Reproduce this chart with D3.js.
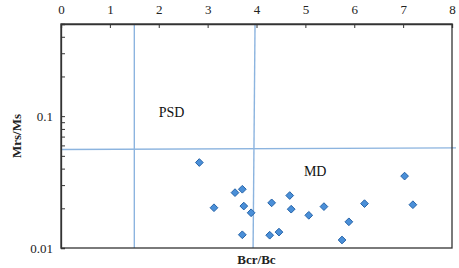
<!DOCTYPE html>
<html>
<head>
<meta charset="utf-8">
<script src="https://cdn.jsdelivr.net/npm/d3@7"></script>
<style>
  body { margin: 0; background: #fff; }
  svg { display: block; }
  svg text { font-family: 'Liberation Serif', 'Times New Roman', serif; }
</style>
</head>
<body>
<script>
// Bcr/Bc values
const bcrBc = [2.83, 3.13, 3.56, 3.71, 3.74, 3.89, 3.71, 4.27, 4.46, 4.31,
               4.68, 4.71, 5.07, 5.38, 5.75, 5.89, 6.21, 7.03, 7.20];
// Mrs/Ms values
const mrsMs = [0.0445, 0.0202, 0.0263, 0.0279, 0.0208, 0.0185, 0.0126, 0.0125, 0.0132, 0.0220,
               0.0250, 0.0197, 0.0177, 0.0206, 0.0115, 0.0158, 0.0217, 0.0351, 0.0213];

const xTicks = [0, 1, 2, 3, 4, 5, 6, 7, 8];
const yLabelTicks = [0.01, 0.1];
const yMinorTicks = [0.02, 0.03, 0.04, 0.05, 0.06, 0.07, 0.08, 0.09, 0.1, 0.2, 0.3, 0.4];

// domain boundary lines (Day plot)
const psdLineX = [[1.5, 0.5], [1.5, 0.01]];
const mdLineX = [[3.97, 0.5], [3.93, 0.01]];
const mdLineY = [[0, 0.0558], [8.08, 0.0575]];

const regionLabels = [
    { text: 'PSD', x: 2.0, y: 0.107 },
    { text: 'MD', x: 4.97, y: 0.038 }
];

const width = 459, height = 268;
const margin = { top: 24, right: 7, bottom: 20, left: 61 };
const serif = "'Liberation Serif', 'Times New Roman', serif";

const svg = d3.select('body').append('svg')
    .attr('width', width)
    .attr('height', height);

const x = d3.scaleLinear()
    .domain([0, 8])
    .range([margin.left, width - margin.right]);
const y = d3.scaleLog()
    .domain([0.01, 0.5])
    .range([height - margin.bottom, margin.top]);

const lineColor = '#8cb4df';
const line = d3.line().x(d => x(d[0])).y(d => y(d[1]));

// reference lines
[psdLineX, mdLineX, mdLineY].forEach(pts => {
    svg.append('path')
        .attr('d', line(pts))
        .attr('fill', 'none')
        .attr('stroke', lineColor)
        .attr('stroke-width', 1.4);
});

// frame
svg.append('rect')
    .attr('x', x(0))
    .attr('y', y(0.5))
    .attr('width', x(8) - x(0))
    .attr('height', y(0.01) - y(0.5))
    .attr('fill', 'none')
    .attr('stroke', '#333')
    .attr('stroke-width', 1.3);

// top x axis (ticks pointing inward)
const xAxis = svg.append('g')
    .attr('transform', `translate(0,${y(0.5)})`)
    .call(d3.axisTop(x).tickValues(xTicks).tickSize(-4).tickPadding(10).tickFormat(d3.format('d')));
xAxis.attr('font-family', serif);
xAxis.select('.domain').attr('stroke', '#333').attr('stroke-width', 1.3);
xAxis.selectAll('.tick line').attr('stroke', '#333');
xAxis.selectAll('.tick text')
    .attr('font-size', 13)
    .attr('font-family', serif)
    .attr('fill', '#222');

// left y axis: minor ticks inward
const yAxis = svg.append('g')
    .attr('transform', `translate(${x(0)},0)`)
    .call(d3.axisLeft(y).tickValues(yMinorTicks).tickSize(-4).tickFormat(''));
yAxis.select('.domain').attr('stroke', '#333').attr('stroke-width', 1.3);
yAxis.selectAll('.tick line').attr('stroke', '#333');

// y tick labels
svg.append('g').selectAll('text')
    .data(yLabelTicks)
    .join('text')
    .attr('x', x(0) - 8)
    .attr('y', d => y(d))
    .attr('dy', '0.35em')
    .attr('text-anchor', 'end')
    .attr('font-family', serif)
    .attr('font-size', 13)
    .attr('fill', '#222')
    .text(d => d);

// points
svg.append('g').selectAll('path')
    .data(bcrBc.map((v, i) => [v, mrsMs[i]]))
    .join('path')
    .attr('d', d3.symbol().type(d3.symbolDiamond2).size(38))
    .attr('transform', d => `translate(${x(d[0])},${y(d[1])})`)
    .attr('fill', '#4a8fd8')
    .attr('stroke', '#2563a8')
    .attr('stroke-width', 1);

// region labels
svg.append('g').selectAll('text')
    .data(regionLabels)
    .join('text')
    .attr('x', d => x(d.x))
    .attr('y', d => y(d.y))
    .attr('dy', '0.35em')
    .attr('font-family', serif)
    .attr('font-size', 14)
    .attr('fill', '#111')
    .text(d => d.text);

// axis titles
svg.append('text')
    .attr('x', (x(0) + x(8)) / 2)
    .attr('y', 264)
    .attr('text-anchor', 'middle')
    .attr('font-family', serif)
    .attr('font-size', 13)
    .attr('font-weight', 'bold')
    .attr('fill', '#222')
    .text('Bcr/Bc');

svg.append('text')
    .attr('transform', `translate(16,${(y(0.01) + y(0.5)) / 2}) rotate(-90)`)
    .attr('dy', '0.35em')
    .attr('text-anchor', 'middle')
    .attr('font-family', serif)
    .attr('font-size', 13)
    .attr('font-weight', 'bold')
    .attr('fill', '#222')
    .text('Mrs/Ms');
</script>
</body>
</html>
